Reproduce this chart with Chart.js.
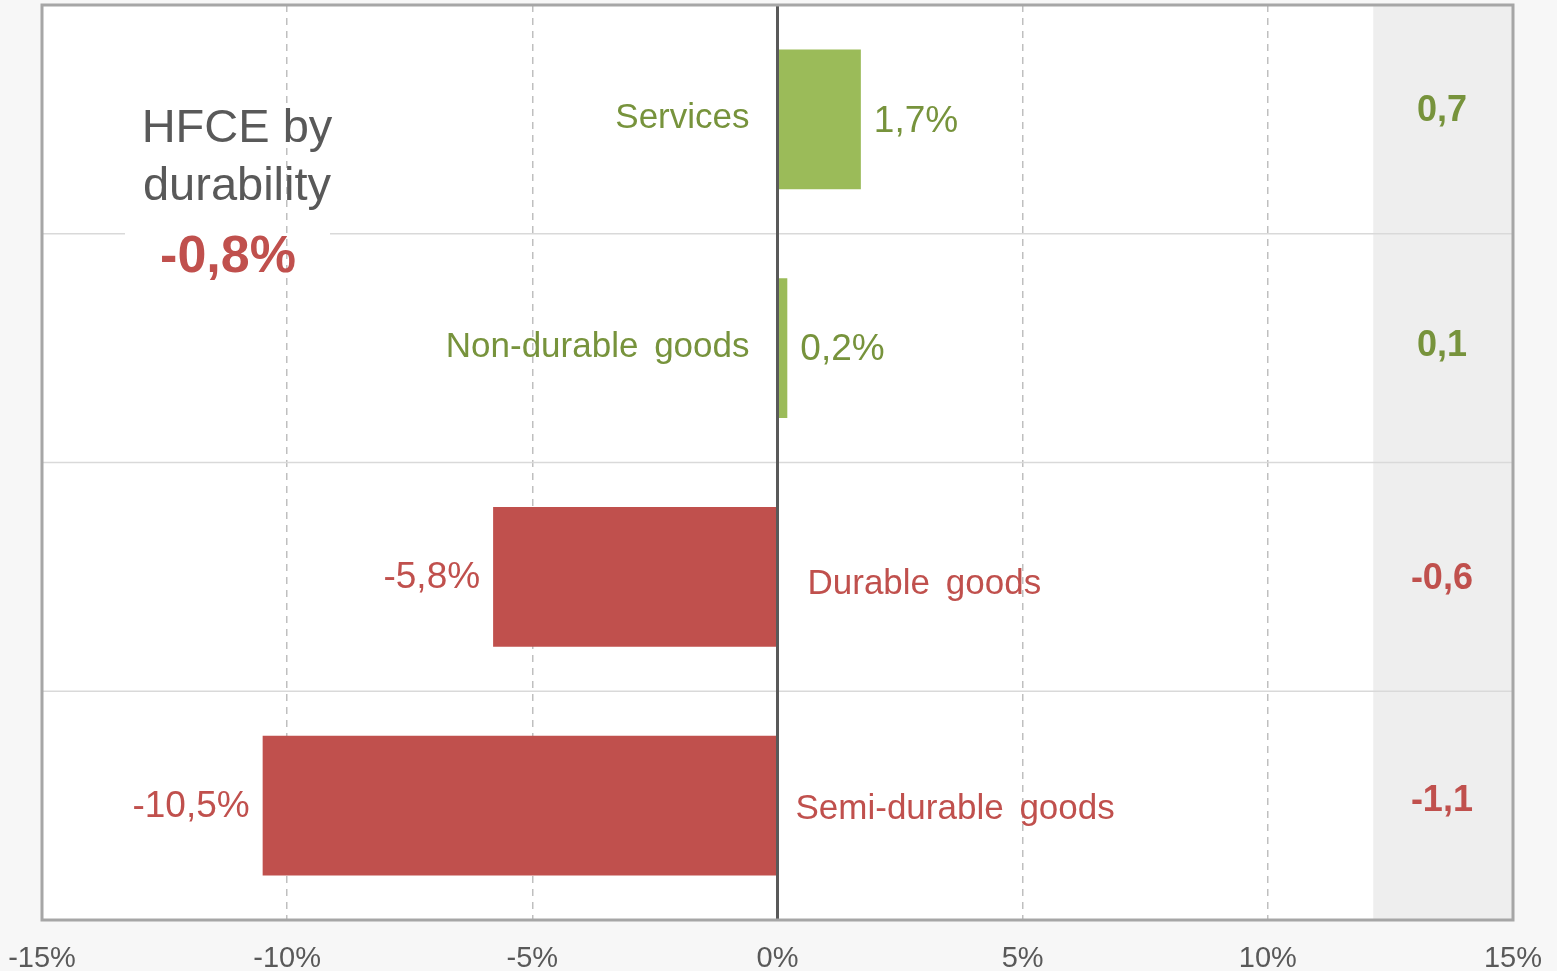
<!DOCTYPE html>
<html lang="en">
<head>
    <meta charset="UTF-8">
    <title>HFCE by durability</title>
    <script src="https://cdn.jsdelivr.net/npm/chart.js"></script>
    <style>
        html, body { margin: 0; padding: 0; background: #f7f7f7; }
        .graph { width: 1557px; height: 971px; }
    </style>
</head>
<body>
    <div class="graph">
        <canvas id="chartBar"></canvas>
    </div>
<script>
    // dados
    var categorias = ["Services", "Non-durable goods", "Durable goods", "Semi-durable goods"];
    var variacao = [1.7, 0.2, -5.8, -10.5];
    var contribuicao = [0.7, 0.1, -0.6, -1.1];
    var totalTexto = "-0,8%";
    var tituloLinhas = ["HFCE by", "durability"];
    var ticksX = [-15, -10, -5, 0, 5, 10, 15];

    // ajustes verticais dos textos (px), só estilo
    var desvioRotulo = [-1, -1, 7, 4];
    var desvioContrib = [-8, -2, 2, -5];

    var VERDE = '#9bbb59', VERMELHO = '#c0504d', VERDE_TXT = '#77933c', CINZA = '#595959';
    var FONTE = '"Liberation Sans", Arial, sans-serif';

    function virgula(v, casas) {
        return v.toFixed(casas).replace('.', ',');
    }

    // desenha fundo, faixa cinza, linhas e textos
    var extras = {
        id: 'extras',
        beforeDraw: function (chart) {
            var ctx = chart.ctx, a = chart.chartArea, x = chart.scales.x;
            ctx.save();
            ctx.fillStyle = '#ffffff';
            ctx.fillRect(a.left, a.top, a.right - a.left, a.bottom - a.top);
            var xb = x.getPixelForValue(12.15);
            ctx.fillStyle = '#eeeeee';
            ctx.fillRect(xb, a.top, a.right - xb, a.bottom - a.top);
            ctx.restore();
        },
        beforeDatasetsDraw: function (chart) {
            var ctx = chart.ctx, a = chart.chartArea, y = chart.scales.y;
            ctx.save();
            ctx.strokeStyle = '#d9d9d9';
            ctx.lineWidth = 1.5;
            for (var i = 0; i < categorias.length - 1; i++) {
                var yy = (y.getPixelForValue(i) + y.getPixelForValue(i + 1)) / 2;
                ctx.beginPath();
                if (i === 0) {
                    // espaço para o título
                    ctx.moveTo(a.left, yy); ctx.lineTo(a.left + 83, yy);
                    ctx.moveTo(a.left + 288, yy); ctx.lineTo(a.right, yy);
                } else {
                    ctx.moveTo(a.left, yy); ctx.lineTo(a.right, yy);
                }
                ctx.stroke();
            }
            ctx.restore();
        },
        afterDatasetsDraw: function (chart) {
            var ctx = chart.ctx, a = chart.chartArea, x = chart.scales.x;
            var meta = chart.getDatasetMeta(0);
            ctx.save();

            // linha do zero
            var x0 = x.getPixelForValue(0);
            ctx.strokeStyle = CINZA;
            ctx.lineWidth = 3;
            ctx.beginPath();
            ctx.moveTo(x0, a.top); ctx.lineTo(x0, a.bottom);
            ctx.stroke();

            // moldura
            ctx.strokeStyle = '#a6a6a6';
            ctx.lineWidth = 3;
            ctx.strokeRect(a.left, a.top, a.right - a.left, a.bottom - a.top);

            ctx.textBaseline = 'middle';
            ctx.wordSpacing = '6px';
            meta.data.forEach(function (bar, i) {
                var v = variacao[i];
                var cor = v >= 0 ? VERDE_TXT : VERMELHO;
                ctx.fillStyle = cor;
                ctx.font = '35px ' + FONTE;
                if (v >= 0) {
                    ctx.textAlign = 'right';
                    ctx.fillText(categorias[i], x0 - 28, bar.y + desvioRotulo[i]);
                    ctx.textAlign = 'left';
                    ctx.font = '37px ' + FONTE;
                    ctx.fillText(virgula(v, 1) + '%', bar.x + 13, bar.y + 2);
                } else {
                    ctx.textAlign = 'left';
                    ctx.fillText(categorias[i], x0 + (i === 2 ? 30 : 18), bar.y + desvioRotulo[i]);
                    ctx.textAlign = 'right';
                    ctx.font = '37px ' + FONTE;
                    ctx.fillText(virgula(v, 1) + '%', bar.x - 13, bar.y + 1);
                }
                // contribuição na faixa cinza
                ctx.font = 'bold 36px ' + FONTE;
                ctx.textAlign = 'center';
                ctx.fillText(virgula(contribuicao[i], 1), x.getPixelForValue(13.55), bar.y + desvioContrib[i]);
            });

            // título
            ctx.wordSpacing = '0px';
            ctx.textAlign = 'center';
            ctx.fillStyle = CINZA;
            ctx.font = '47px ' + FONTE;
            var cx = a.left + 195;
            ctx.fillText(tituloLinhas[0], cx, 129);
            ctx.fillText(tituloLinhas[1], cx, 187);
            ctx.fillStyle = VERMELHO;
            ctx.font = 'bold 52px ' + FONTE;
            ctx.fillText(totalTexto, cx - 9, 258);
            ctx.restore();
        }
    };

    var ctxBar = document.getElementById("chartBar").getContext("2d");
    var configBar = {
        type: 'bar',
        data: {
            labels: categorias,
            datasets: [
                {
                    data: variacao,
                    backgroundColor: variacao.map(function (v) { return v >= 0 ? VERDE : VERMELHO; }),
                    borderWidth: 0,
                    barPercentage: 0.61,
                    categoryPercentage: 1
                }
            ]
        },
        options: {
            indexAxis: 'y',
            responsive: true,
            maintainAspectRatio: false,
            animation: false,
            layout: { padding: { left: 42, right: 44, top: 5, bottom: 0 } },
            plugins: {
                legend: { display: false },
                tooltip: { enabled: false }
            },
            scales: {
                x: {
                    min: -15,
                    max: 15,
                    afterBuildTicks: function (axis) {
                        axis.ticks = ticksX.map(function (v) { return { value: v }; });
                    },
                    afterFit: function (axis) {
                        axis.height = 51;
                        axis.paddingLeft = 0;
                        axis.paddingRight = 0;
                    },
                    ticks: {
                        color: CINZA,
                        padding: 22,
                        maxRotation: 0,
                        font: { family: FONTE, size: 29 },
                        callback: function (v) { return v + '%'; }
                    },
                    grid: {
                        drawTicks: false,
                        lineWidth: 1.5,
                        color: function (c) {
                            var v = c.tick ? c.tick.value : 0;
                            return (v === 0 || v === -15 || v === 15) ? 'rgba(0,0,0,0)' : '#bfbfbf';
                        }
                    },
                    border: { display: false, dash: [7, 6] }
                },
                y: {
                    display: false,
                    grid: { display: false }
                }
            }
        },
        plugins: [extras]
    };
    var ax_chartBar = new Chart(ctxBar, configBar);
</script>
</body>
</html>
